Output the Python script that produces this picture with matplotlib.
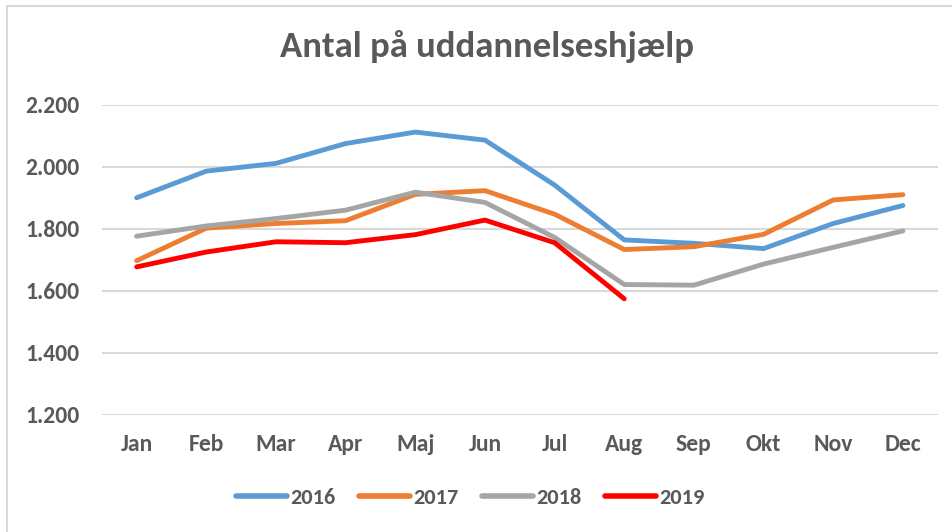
import matplotlib.pyplot as plt
from matplotlib.patches import Rectangle
from matplotlib.ticker import FuncFormatter

plt.rcParams['font.family'] = ['Carlito', 'Liberation Sans Narrow', 'Liberation Sans', 'DejaVu Sans']

months = ['Jan', 'Feb', 'Mar', 'Apr', 'Maj', 'Jun', 'Jul', 'Aug', 'Sep', 'Okt', 'Nov', 'Dec']
y2016 = [1900, 1986, 2011, 2075, 2112, 2086, 1941, 1764, 1753, 1736, 1817, 1875]
y2017 = [1697, 1802, 1817, 1826, 1911, 1923, 1847, 1733, 1742, 1782, 1893, 1910]
y2018 = [1776, 1809, 1833, 1860, 1918, 1885, 1772, 1620, 1618, 1686, 1740, 1793]
y2019 = [1677, 1725, 1758, 1755, 1781, 1828, 1755, 1574]
yticks = [1200, 1400, 1600, 1800, 2000, 2200]

text_col = '#595959'

fig = plt.figure(figsize=(9.52, 5.32), dpi=100)
ax = fig.add_axes([0.107, 0.2205, 0.878, 0.5825])

# chart border (light gray)
fig.patches.append(Rectangle((7 / 952, -0.1), 1.2, 1 - 6 / 532 + 0.1, transform=fig.transFigure,
                             fill=False, edgecolor='#D9D9D9', linewidth=1.5))

series = [('2016', y2016, '#5B9BD5'), ('2017', y2017, '#ED7D31'),
          ('2018', y2018, '#A5A5A5'), ('2019', y2019, '#FF0000')]
x = list(range(len(months)))
for name, vals, col in series:
    ax.plot(x[:len(vals)], vals, color=col, linewidth=3.5, label=name,
            solid_capstyle='round', solid_joinstyle='round', clip_on=False, zorder=3)

ax.set_xlim(-0.5, len(months) - 0.5)
ax.set_ylim(1200, 2200)
ax.set_yticks(yticks)
ax.yaxis.set_major_formatter(FuncFormatter(lambda v, p: f'{int(v):,}'.replace(',', '.')))
ax.set_xticks(x)
ax.set_xticklabels(months)
ax.grid(axis='y', color='#D9D9D9', linewidth=1.5, zorder=0)
ax.set_axisbelow(True)
for s in ax.spines.values():
    s.set_visible(False)
ax.tick_params(length=0, labelsize=17, labelcolor=text_col)
ax.tick_params(axis='y', pad=16)
ax.tick_params(axis='x', pad=14)
for lbl in ax.get_xticklabels() + ax.get_yticklabels():
    lbl.set_fontweight('bold')

fig.text(0.512, 0.893, 'Antal på uddannelseshjælp', ha='center', va='baseline',
         fontsize=26.5, fontweight='bold', color=text_col)

leg = fig.legend(loc='center', bbox_to_anchor=(0.494, 0.064), ncol=4, frameon=False,
                 handlelength=2.3, handletextpad=0.15, columnspacing=1.05,
                 borderpad=0, prop={'size': 16, 'weight': 'bold'})
for t in leg.get_texts():
    t.set_color(text_col)
for h in leg.get_lines():
    h.set_linewidth(4)

fig.savefig('out.png', dpi=100)
